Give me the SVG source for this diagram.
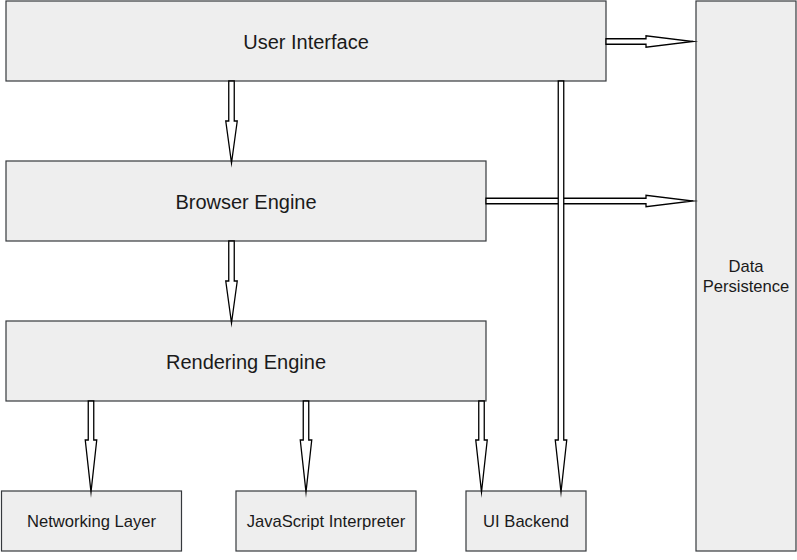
<svg xmlns="http://www.w3.org/2000/svg" width="797" height="560" viewBox="0 0 797 560">
<style>
.box{fill:#eeeeee;stroke:#36393d;stroke-width:1.2}
.lbl{font-family:"Liberation Sans",Arial,Helvetica,sans-serif;fill:#1a1a1a;text-anchor:middle}
.big{font-size:20px}
.sm{font-size:16.6px}
.arrow{fill:#ffffff;stroke:#000000;stroke-width:1.3;stroke-linejoin:miter;stroke-miterlimit:12}
</style>
<rect width="797" height="560" fill="#ffffff"/>
<g id="node-ui"><rect class="box" x="6" y="1" width="600" height="80"/><text class="lbl big" x="306" y="48.5">User Interface</text></g>
<g id="node-browser"><rect class="box" x="6" y="161" width="480" height="80"/><text class="lbl big" x="246" y="208.5">Browser Engine</text></g>
<g id="node-rendering"><rect class="box" x="6" y="321" width="480" height="80"/><text class="lbl big" x="246" y="368.5">Rendering Engine</text></g>
<g id="node-networking"><rect class="box" x="1.5" y="491" width="180" height="60"/><text class="lbl sm" x="91.5" y="527">Networking Layer</text></g>
<g id="node-js"><rect class="box" x="236" y="491" width="180" height="60"/><text class="lbl sm" x="326" y="527">JavaScript Interpreter</text></g>
<g id="node-uibackend"><rect class="box" x="466" y="491" width="120" height="60"/><text class="lbl sm" x="526" y="527">UI Backend</text></g>
<g id="node-data"><rect class="box" x="696" y="1" width="100" height="550"/><text class="lbl sm" x="746" y="271.5">Data</text><text class="lbl sm" x="746" y="291.5">Persistence</text></g>
<g id="connectors">
<polygon class="arrow" points="228.75,81 228.75,121 225.75,121 231.5,163 237.25,121 234.25,121 234.25,81"/>
<polygon class="arrow" points="228.75,241 228.75,281 225.75,281 231.5,323 237.25,281 234.25,281 234.25,241"/>
<polygon class="arrow" points="606,38.75 646,38.75 646,35.75 693,41.5 646,47.25 646,44.25 606,44.25"/>
<polygon class="arrow" points="486,198.25 646,198.25 646,195.25 693,201 646,206.75 646,203.75 486,203.75"/>
<polygon class="arrow" points="558.25,81 558.25,440 555.25,440 561,492 566.75,440 563.75,440 563.75,81"/>
<polygon class="arrow" points="88.25,401 88.25,440 85.25,440 91,492 96.75,440 93.75,440 93.75,401"/>
<polygon class="arrow" points="303.25,401 303.25,440 300.25,440 306,492 311.75,440 308.75,440 308.75,401"/>
<polygon class="arrow" points="478.75,401 478.75,440 475.75,440 481.5,492 487.25,440 484.25,440 484.25,401"/>
</g>
</svg>
